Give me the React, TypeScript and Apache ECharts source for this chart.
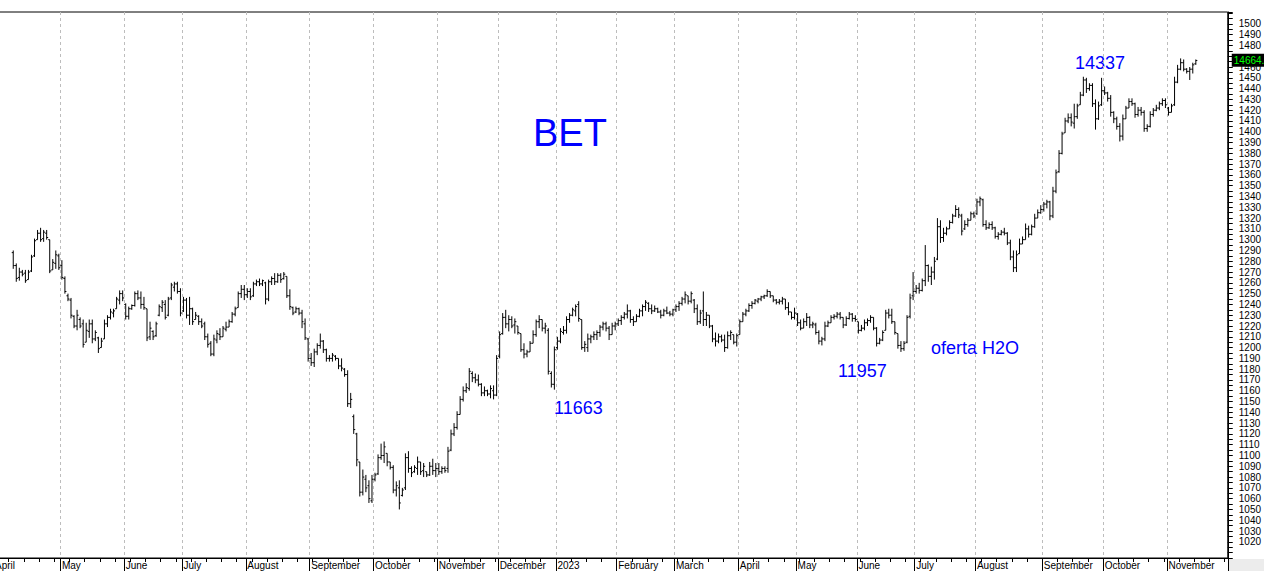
import React, { useEffect, useRef } from 'react';
import * as echarts from 'echarts';

// ---- Data: daily OHLC bars, [open, high, low, close], BET index (axis units = points / 10) ----
const apr22 = [
  [1288,1290,1273,1276],[1276,1278,1261,1264],[1265,1274,1262,1270],[1270,1272,1266,1268],
  [1269,1272,1260,1262],[1263,1272,1263,1270],[1271,1286,1270,1284],[1285,1301,1284,1299],
  [1300,1309,1300,1306],[1306,1311,1298,1300],[1301,1309,1298,1307],[1306,1309,1300,1302],
  [1300,1300,1269,1271],[1272,1282,1272,1279],[1278,1290,1273,1286],[1285,1287,1272,1274],
];
const may22 = [
  [1276,1281,1263,1265],[1264,1266,1250,1252],[1248,1250,1243,1245],[1244,1246,1227,1230],
  [1229,1230,1218,1220],[1220,1235,1216,1230],[1226,1228,1218,1220],[1222,1226,1200,1203],
  [1205,1223,1205,1216],[1215,1226,1209,1222],[1222,1226,1204,1208],[1208,1216,1206,1214],
  [1209,1210,1195,1199],[1200,1209,1200,1206],[1208,1226,1208,1222],[1222,1230,1219,1228],
  [1228,1236,1226,1233],[1232,1236,1228,1234],[1236,1247,1236,1245],[1244,1253,1240,1250],
  [1250,1253,1243,1246],
];
const jun22 = [
  [1240,1241,1226,1229],[1229,1238,1226,1236],[1236,1240,1235,1239],[1239,1252,1238,1250],
  [1250,1253,1244,1246],[1246,1252,1236,1240],[1240,1247,1235,1237],[1236,1236,1206,1209],
  [1210,1224,1207,1218],[1215,1216,1207,1210],[1211,1224,1210,1222],[1230,1240,1229,1238],
  [1237,1244,1233,1242],[1240,1244,1226,1228],[1230,1247,1229,1245],[1246,1260,1244,1258],
  [1256,1261,1252,1259],[1259,1261,1250,1252],[1252,1255,1229,1232],
];
const jul22 = [
  [1234,1247,1233,1244],[1244,1246,1227,1230],[1230,1247,1221,1236],[1236,1237,1221,1224],
  [1226,1233,1226,1230],[1229,1230,1221,1224],[1224,1227,1218,1220],[1222,1224,1207,1210],
  [1210,1213,1200,1203],[1204,1206,1192,1194],[1194,1212,1192,1208],[1207,1216,1204,1213],
  [1212,1218,1207,1210],[1210,1220,1210,1218],[1217,1224,1215,1219],[1219,1226,1219,1224],
  [1224,1233,1223,1231],[1231,1238,1229,1236],[1237,1252,1237,1250],[1250,1258,1246,1254],
  [1254,1258,1244,1249],
];
const aug22 = [
  [1249,1255,1246,1252],[1252,1255,1244,1247],[1248,1261,1247,1259],[1259,1263,1257,1261],
  [1261,1264,1257,1259],[1259,1263,1257,1262],[1260,1261,1240,1245],[1245,1263,1243,1261],
  [1261,1266,1258,1264],[1264,1269,1258,1261],[1261,1269,1260,1267],[1267,1269,1260,1263],
  [1264,1270,1263,1268],[1266,1266,1246,1248],[1248,1254,1235,1238],[1237,1238,1230,1232],
  [1233,1238,1232,1236],[1236,1237,1230,1232],[1232,1235,1218,1224],[1222,1227,1207,1209],
  [1208,1209,1187,1190],
];
const sep22 = [
  [1190,1195,1183,1186],[1186,1199,1182,1196],[1196,1204,1193,1202],[1202,1213,1199,1206],
  [1206,1207,1195,1198],[1198,1199,1187,1190],[1190,1193,1187,1190],[1190,1195,1187,1193],
  [1192,1193,1188,1190],[1190,1190,1180,1183],[1183,1190,1178,1181],[1180,1181,1173,1175],
  [1175,1179,1145,1148],[1148,1158,1144,1152],[1136,1138,1120,1124],[1120,1121,1090,1096],
  [1094,1094,1062,1066],[1066,1087,1063,1080],[1078,1082,1066,1070],[1072,1077,1056,1060],
  [1058,1082,1056,1078],
];
const oct22 = [
  [1078,1084,1076,1082],[1083,1101,1082,1098],[1098,1111,1096,1100],[1100,1113,1093,1108],
  [1102,1102,1090,1094],[1094,1094,1087,1089],[1089,1091,1065,1068],[1068,1076,1062,1072],
  [1070,1077,1050,1056],[1063,1070,1062,1068],[1070,1102,1068,1098],[1098,1104,1084,1088],
  [1088,1090,1080,1084],[1085,1091,1084,1089],[1088,1099,1082,1094],[1094,1094,1082,1085],
  [1086,1093,1080,1090],[1085,1085,1080,1082],[1082,1094,1081,1090],[1090,1097,1082,1086],
  [1086,1093,1080,1088],
];
const nov22 = [
  [1088,1093,1082,1085],[1085,1090,1083,1088],[1088,1090,1084,1086],[1088,1108,1084,1104],
  [1105,1124,1104,1120],[1120,1130,1118,1126],[1126,1141,1124,1138],[1138,1155,1138,1152],
  [1152,1164,1150,1160],[1160,1167,1158,1163],[1162,1181,1160,1178],[1176,1178,1168,1172],
  [1172,1176,1167,1170],[1170,1175,1164,1166],[1166,1167,1155,1158],[1158,1164,1155,1160],
  [1160,1161,1155,1157],[1157,1165,1153,1162],[1160,1165,1152,1156],[1156,1193,1155,1190],
];
const dec22 = [
  [1192,1215,1190,1212],[1213,1232,1212,1228],[1228,1235,1218,1222],[1222,1230,1215,1226],
  [1226,1229,1218,1220],[1221,1227,1213,1224],[1220,1220,1212,1214],[1213,1213,1196,1198],
  [1198,1204,1190,1194],[1194,1198,1191,1196],[1196,1206,1196,1204],[1204,1216,1204,1212],
  [1212,1226,1210,1224],[1224,1230,1218,1226],[1226,1226,1215,1218],[1218,1223,1213,1220],
  [1216,1218,1175,1178],[1176,1178,1163,1166],[1166,1201,1161,1198],
];
const jan23 = [
  [1200,1210,1198,1206],[1206,1218,1204,1215],[1214,1220,1212,1216],[1216,1229,1213,1226],
  [1226,1232,1223,1230],[1230,1237,1229,1235],[1234,1240,1229,1238],[1240,1243,1224,1227],
  [1226,1226,1198,1200],[1200,1206,1196,1203],[1200,1213,1196,1208],[1208,1212,1204,1210],
  [1210,1215,1207,1212],[1212,1216,1207,1214],[1214,1221,1210,1219],[1219,1224,1216,1222],
  [1222,1224,1215,1218],[1218,1220,1207,1212],[1212,1223,1212,1220],[1220,1224,1216,1222],
];
const feb23 = [
  [1222,1227,1220,1225],[1225,1230,1221,1228],[1228,1233,1226,1231],[1231,1240,1227,1234],
  [1234,1235,1223,1226],[1226,1229,1220,1224],[1224,1231,1224,1229],[1229,1236,1228,1234],
  [1234,1240,1229,1238],[1238,1244,1234,1242],[1241,1242,1233,1236],[1236,1240,1231,1234],
  [1234,1239,1233,1236],[1236,1237,1232,1233],[1233,1235,1227,1230],[1230,1236,1229,1234],
  [1234,1238,1231,1232],[1232,1234,1229,1231],[1231,1236,1229,1235],
];
const mar23 = [
  [1235,1240,1233,1238],[1238,1243,1234,1241],[1241,1247,1239,1245],[1245,1252,1241,1249],
  [1248,1248,1240,1243],[1243,1252,1241,1250],[1244,1245,1232,1236],[1236,1240,1221,1224],
  [1224,1235,1222,1232],[1234,1252,1220,1226],[1226,1233,1220,1230],[1230,1230,1218,1220],
  [1220,1221,1205,1208],[1208,1214,1201,1206],[1206,1213,1204,1210],[1210,1212,1205,1207],
  [1207,1212,1196,1200],[1200,1215,1199,1211],[1211,1216,1207,1214],[1212,1212,1203,1205],
  [1205,1213,1201,1211],
];
const apr23 = [
  [1212,1226,1212,1224],[1224,1233,1224,1231],[1231,1236,1229,1234],[1234,1241,1233,1239],
  [1239,1243,1236,1241],[1241,1245,1240,1244],[1243,1246,1241,1245],[1245,1248,1243,1247],
  [1247,1249,1245,1248],[1248,1254,1247,1252],[1252,1252,1246,1248],[1248,1248,1242,1244],
  [1244,1245,1240,1242],[1242,1245,1240,1243],[1243,1247,1240,1245],[1245,1245,1235,1237],
  [1237,1242,1230,1233],[1233,1233,1226,1228],[1228,1237,1226,1232],
];
const may23 = [
  [1231,1232,1220,1223],[1223,1226,1216,1218],[1218,1227,1218,1224],[1224,1232,1220,1228],
  [1228,1229,1218,1221],[1221,1224,1218,1222],[1221,1223,1212,1214],[1214,1216,1203,1206],
  [1206,1210,1202,1208],[1208,1224,1206,1220],[1220,1225,1219,1223],[1223,1230,1223,1228],
  [1228,1231,1226,1229],[1229,1233,1227,1231],[1231,1233,1226,1228],[1228,1228,1218,1221],
  [1221,1229,1220,1227],[1227,1233,1226,1231],[1231,1232,1224,1227],[1227,1230,1224,1226],
];
const jun23 = [
  [1224,1224,1213,1216],[1216,1221,1215,1218],[1218,1226,1216,1223],[1223,1227,1220,1225],
  [1225,1230,1223,1228],[1228,1228,1216,1218],[1218,1219,1201,1204],[1204,1209,1203,1207],
  [1207,1216,1206,1214],[1216,1235,1216,1232],[1232,1236,1227,1230],[1230,1236,1222,1224],
  [1224,1224,1212,1214],[1213,1213,1199,1202],[1202,1206,1196,1199],[1199,1206,1197,1204],
  [1205,1230,1204,1228],[1229,1250,1227,1246],[1248,1270,1244,1252],
];
const jul23 = [
  [1252,1258,1250,1255],[1255,1260,1250,1253],[1253,1264,1252,1262],[1262,1295,1257,1276],
  [1276,1277,1261,1266],[1266,1275,1258,1270],[1270,1284,1263,1280],[1282,1320,1281,1312],
  [1312,1318,1297,1302],[1302,1311,1298,1306],[1306,1312,1304,1310],[1310,1318,1310,1316],
  [1316,1324,1315,1322],[1322,1332,1321,1328],[1328,1330,1320,1323],[1322,1324,1304,1308],
  [1310,1318,1309,1314],[1314,1320,1312,1318],[1318,1326,1318,1324],[1324,1326,1320,1322],
];
const aug23 = [
  [1324,1338,1323,1335],[1335,1340,1331,1338],[1337,1338,1312,1314],[1314,1318,1309,1311],
  [1311,1316,1310,1314],[1314,1317,1309,1311],[1311,1312,1301,1303],[1303,1307,1300,1305],
  [1305,1309,1304,1307],[1307,1311,1304,1306],[1306,1307,1295,1297],[1297,1300,1281,1284],
  [1284,1290,1270,1274],[1274,1290,1270,1286],[1287,1301,1287,1296],[1296,1303,1296,1300],
  [1300,1315,1300,1310],[1310,1313,1302,1305],[1305,1314,1304,1312],[1312,1324,1311,1320],
  [1320,1328,1320,1325],[1325,1332,1324,1328],
];
const sep23 = [
  [1328,1335,1326,1333],[1333,1337,1329,1335],[1335,1336,1318,1322],[1322,1349,1320,1345],
  [1345,1365,1343,1362],[1363,1383,1362,1380],[1380,1400,1379,1398],[1399,1413,1399,1410],
  [1410,1417,1408,1413],[1413,1417,1405,1409],[1408,1426,1403,1414],[1414,1426,1412,1424],
  [1425,1437,1425,1434],[1434,1451,1433,1448],[1448,1450,1436,1440],[1440,1445,1438,1443],
  [1443,1445,1423,1426],[1426,1430,1402,1412],[1412,1428,1411,1424],[1425,1450,1424,1438],
];
const oct23 = [
  [1438,1442,1434,1436],[1436,1437,1428,1431],[1431,1434,1414,1418],[1418,1419,1408,1412],
  [1412,1414,1402,1405],[1405,1408,1391,1396],[1396,1416,1392,1412],[1412,1424,1412,1422],
  [1422,1431,1422,1428],[1428,1431,1424,1426],[1426,1427,1413,1416],[1416,1423,1414,1420],
  [1420,1423,1415,1418],[1418,1420,1400,1403],[1403,1407,1400,1405],[1405,1419,1404,1416],
  [1416,1422,1414,1420],[1420,1425,1419,1422],[1422,1428,1420,1426],[1426,1431,1424,1429],
  [1429,1431,1422,1425],
];
const nov23 = [
  [1422,1423,1415,1418],[1418,1426,1418,1424],[1425,1451,1424,1446],[1446,1462,1445,1458],
  [1458,1468,1457,1464],[1464,1467,1456,1458],[1458,1459,1454,1456],[1456,1460,1448,1458],
  [1458,1464,1454,1462],[1463,1467,1462,1466],
];

const monthLabels = [
  'April', 'May', 'June', 'July', 'August', 'September', 'October', 'November', 'December',
  '2023', 'February', 'March', 'April', 'May', 'June', 'July', 'August', 'September', 'October', 'November',
];
const monthBars = [
  apr22, may22, jun22, jul22, aug22, sep22, oct22, nov22, dec22,
  jan23, feb23, mar23, apr23, may23, jun23, jul23, aug23, sep23, oct23, nov23,
];
const lastPriceValue = 1466.4;
const lastPriceText = '14664.1';
const annotations = [
  { text: 'BET', size: 38, x: 533, y: 133 },
  { text: '11663', size: 18, x: 554, y: 408 },
  { text: '11957', size: 18, x: 838, y: 371 },
  { text: 'oferta H2O', size: 18, x: 931, y: 348 },
  { text: '14337', size: 18, x: 1075, y: 63 },
];

// ---- layout helpers (empty slots before the first bar and after the last bar) ----
const LEAD_EMPTY = 6;
const TRAIL_EMPTY = 10;
const SHIFT = 8; // chart div starts 8px left of the page edge (view is cropped like the reference)

const monthStarts: number[] = [];
const ohlc: number[][] = [];
let cursor = 0;
monthBars.forEach((bars, m) => {
  monthStarts.push(cursor);
  if (m === 0) cursor += LEAD_EMPTY;
  bars.forEach((b) => {
    ohlc.push([cursor, b[0], b[1], b[2], b[3]]);
    cursor++;
  });
});
const totalSlots = cursor + TRAIL_EMPTY;
const categories = Array.from({ length: totalSlots }, (_, i) => String(i));
const labelByIndex = new Map<number, string>(monthStarts.map((s, m) => [s, monthLabels[m]]));
const monthStartSet = new Set(monthStarts);

const FONT = '"Liberation Sans", Arial, sans-serif';
const BLUE = '#0000ff';

export default function App() {
  const ref = useRef<HTMLDivElement>(null);
  useEffect(() => {
    if (!ref.current) return;
    const chart = echarts.init(ref.current, null, { renderer: 'svg' });
    const option: any = {
      animation: false,
      backgroundColor: '#fff',
      grid: {
        left: 0, right: 36, top: 12, bottom: 13,
        show: true, borderColor: '#000', borderWidth: 1, backgroundColor: 'transparent',
      },
      xAxis: [
        {
          type: 'category',
          data: categories,
          position: 'bottom',
          boundaryGap: true,
          axisLine: { show: true, lineStyle: { color: '#000', width: 1 } },
          axisTick: {
            show: true,
            length: 4,
            interval: (i: number) => i % 5 === 0,
            lineStyle: { color: '#000' },
          },
          axisLabel: {
            show: true,
            interval: (i: number) => labelByIndex.has(i),
            formatter: (v: string) => labelByIndex.get(Number(v)) ?? '',
            align: 'left',
            margin: 2,
            fontSize: 10,
            fontFamily: FONT,
            color: '#000',
          },
          splitLine: {
            show: true,
            interval: (i: number) => monthStartSet.has(i),
            lineStyle: { color: '#bdbdbd', type: [3, 3], width: 1 },
          },
        },
        {
          type: 'category',
          data: categories,
          position: 'bottom',
          boundaryGap: true,
          axisLine: { show: false },
          axisTick: {
            show: true,
            length: 14,
            interval: (i: number) => monthStartSet.has(i),
            lineStyle: { color: '#000' },
          },
          axisLabel: { show: false },
          splitLine: { show: false },
        },
      ],
      yAxis: {
        type: 'value',
        position: 'right',
        min: 1005,
        max: 1511,
        interval: 5,
        axisLine: { show: true, lineStyle: { color: '#000' } },
        axisTick: { show: true, length: 5, lineStyle: { color: '#000' } },
        axisLabel: {
          fontSize: 10,
          fontFamily: FONT,
          color: '#000',
          margin: 11,
          formatter: (v: number) =>
            v % 10 === 0 && v >= 1020 && v <= 1500 && v !== 1470 ? String(v) : '',
        },
        splitLine: { show: false },
      },
      series: [
        {
          type: 'custom',
          xAxisIndex: 0,
          yAxisIndex: 0,
          data: ohlc,
          encode: { x: 0, y: [1, 2, 3, 4] },
          renderItem: (_params: any, api: any) => {
            const x = api.value(0);
            const o = api.coord([x, api.value(1)]);
            const h = api.coord([x, api.value(2)]);
            const l = api.coord([x, api.value(3)]);
            const c = api.coord([x, api.value(4)]);
            const style = { stroke: '#000', lineWidth: 1 };
            return {
              type: 'group',
              children: [
                { type: 'line', shape: { x1: h[0], y1: h[1], x2: l[0], y2: l[1] }, style },
                { type: 'line', shape: { x1: o[0] - 1.5, y1: o[1], x2: o[0], y2: o[1] }, style },
                { type: 'line', shape: { x1: c[0], y1: c[1], x2: c[0] + 1.5, y2: c[1] }, style },
              ],
            };
          },
        },
        {
          type: 'line',
          data: [],
          silent: true,
          markLine: {
            silent: true,
            symbol: ['none', 'none'],
            data: [{ yAxis: lastPriceValue }],
            lineStyle: { color: 'rgba(0,0,0,0)', width: 0 },
            label: {
              show: true,
              position: 'end',
              distance: 4,
              formatter: lastPriceText,
              backgroundColor: '#000',
              color: '#00ff00',
              fontSize: 10,
              fontFamily: FONT,
              padding: [2, 2, 1, 2],
            },
          },
        },
      ],
      graphic: [
        {
          type: 'rect', left: 1229 + SHIFT, top: 559, shape: { width: 35, height: 12 },
          style: { fill: '#ececec' }, silent: true,
        },
        ...annotations.map((a) => ({
          type: 'text',
          x: a.x + SHIFT,
          y: a.y,
          silent: true,
          style: {
            text: a.text,
            fontSize: a.size,
            fontFamily: FONT,
            fill: BLUE,
            align: 'left',
            verticalAlign: 'middle',
          },
        })),
      ],
    };
    chart.setOption(option);
    return () => chart.dispose();
  }, []);
  return (
    <div
      ref={ref}
      style={{ position: 'absolute', left: -SHIFT, top: 0, width: 1264 + SHIFT, height: 571, background: '#fff' }}
    />
  );
}
